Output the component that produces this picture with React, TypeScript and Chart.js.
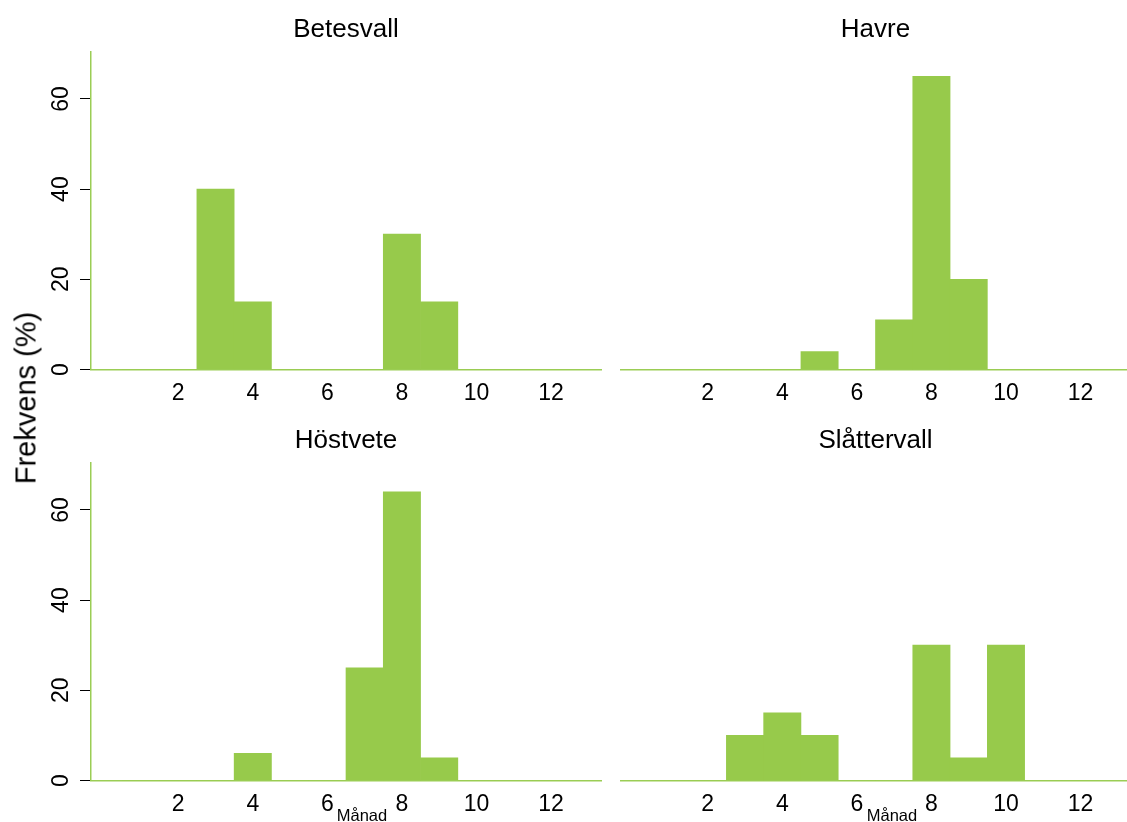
import React, { useEffect, useRef } from "react";
import { Chart, registerables } from "chart.js";

Chart.register(...registerables);

// ---- data ----
const months = [1, 2, 3, 4, 5, 6, 7, 8, 9, 10, 11, 12];
const betesvall = [0, 0, 40, 15, 0, 0, 0, 30, 15, 0, 0, 0];
const havre = [0, 0, 0, 0, 4, 0, 11, 65, 20, 0, 0, 0];
const hostvete = [0, 0, 0, 6, 0, 0, 25, 64, 5, 0, 0, 0];
const slattervall = [0, 0, 10, 15, 10, 0, 0, 30, 5, 30, 0, 0];
const panelTitles = ["Betesvall", "Havre", "Höstvete", "Slåttervall"];
const xTickValues = [2, 4, 6, 8, 10, 12];
const yTickValues = [0, 20, 40, 60];
const yAxisTitle = "Frekvens (%)";
const xAxisTitle = "Månad";

// ---- style ----
const BAR = "#97CA4B";
const AXIS = "#9BCD55";
const FONT = "'Liberation Sans', Arial, Helvetica, sans-serif";

type PanelProps = {
  title: string;
  values: number[];
  showY: boolean;
  left: number;
  top: number;
  width: number;
  height: number;
  padLeft: number;
  padRight: number;
};

function Panel({ title, values, showY, left, top, width, height, padLeft, padRight }: PanelProps) {
  const ref = useRef<HTMLCanvasElement | null>(null);
  useEffect(() => {
    if (!ref.current) return;
    const chart = new Chart(ref.current, {
      type: "bar",
      data: {
        datasets: [
          {
            data: months.map((m, i) => ({ x: m, y: values[i] })),
            backgroundColor: BAR,
            borderWidth: 0,
            barPercentage: 1,
            categoryPercentage: 1,
          },
        ],
      },
      options: {
        animation: false,
        responsive: false,
        events: [],
        layout: { padding: { left: padLeft, right: padRight, top: 0, bottom: 0 } },
        plugins: {
          legend: { display: false },
          tooltip: { enabled: false },
          title: {
            display: true,
            text: title,
            fullSize: false,
            color: "#000",
            font: { family: FONT, size: 26, weight: "normal", lineHeight: 1.2 },
            padding: { top: 14.7, bottom: 6.1 },
          },
        },
        scales: {
          x: {
            type: "linear",
            position: "bottom",
            min: -0.34,
            max: 13.34,
            offset: false,
            bounds: "data",
            z: 1,
            afterBuildTicks: (s: any) => {
              s.ticks = xTickValues.map((v) => ({ value: v }));
            },
            afterFit: (s: any) => {
              s.height = 40.5;
            },
            grid: { display: false, drawTicks: false, offset: false },
            border: { display: true, color: AXIS, width: 1.5 },
            ticks: {
              autoSkip: false,
              maxRotation: 0,
              minRotation: 0,
              padding: 10,
              color: "#000",
              font: { family: FONT, size: 23 },
              callback: (v: any) => String(v),
            },
          },
          y: {
            display: showY,
            min: 0,
            max: 70.4,
            afterBuildTicks: (s: any) => {
              s.ticks = yTickValues.map((v) => ({ value: v }));
            },
            afterFit: (s: any) => {
              s.width = showY ? 91 : 0;
            },
            grid: {
              display: true,
              drawOnChartArea: false,
              drawTicks: true,
              tickLength: 11,
              tickColor: "#000",
              tickWidth: 1,
            },
            border: { display: true, color: AXIS, width: 1.5 },
            ticks: {
              minRotation: 90,
              maxRotation: 90,
              crossAlign: "center",
              padding: 6,
              color: "#000",
              font: { family: FONT, size: 23 },
              callback: (v: any) => String(v),
            },
          },
        },
      } as any,
    });
    return () => chart.destroy();
  }, [title, values, showY, padLeft, padRight]);

  return (
    <canvas
      ref={ref}
      width={width}
      height={height}
      style={{ position: "absolute", left, top, width, height, display: "block" }}
    />
  );
}

export default function App() {
  const series = [betesvall, havre, hostvete, slattervall];
  return (
    <div
      style={{
        position: "fixed",
        left: 0,
        top: 0,
        width: 1127,
        height: 822,
        overflow: "hidden",
        background: "#fff",
        fontFamily: FONT,
      }}
    >
      <Panel title={panelTitles[0]} values={series[0]} showY={true} left={0} top={0} width={610} height={410} padLeft={0} padRight={9} />
      <Panel title={panelTitles[1]} values={series[1]} showY={false} left={610} top={0} width={530} height={410} padLeft={10.5} padRight={9.5} />
      <Panel title={panelTitles[2]} values={series[2]} showY={true} left={0} top={411} width={610} height={410} padLeft={0} padRight={9} />
      <Panel title={panelTitles[3]} values={series[3]} showY={false} left={610} top={411} width={530} height={410} padLeft={10.5} padRight={9.5} />
      <div
        style={{
          position: "absolute",
          left: 26,
          top: 398,
          transform: "translate(-50%, -50%) rotate(-90deg)",
          fontSize: 29,
          lineHeight: 1,
          whiteSpace: "nowrap",
          color: "#000",
        }}
      >
        {yAxisTitle}
      </div>
      <div
        style={{
          position: "absolute",
          left: 362,
          top: 807,
          transform: "translateX(-50%)",
          fontSize: 16.5,
          lineHeight: "16px",
          whiteSpace: "nowrap",
          color: "#000",
        }}
      >
        {xAxisTitle}
      </div>
      <div
        style={{
          position: "absolute",
          left: 892,
          top: 807,
          transform: "translateX(-50%)",
          fontSize: 16.5,
          lineHeight: "16px",
          whiteSpace: "nowrap",
          color: "#000",
        }}
      >
        {xAxisTitle}
      </div>
    </div>
  );
}
